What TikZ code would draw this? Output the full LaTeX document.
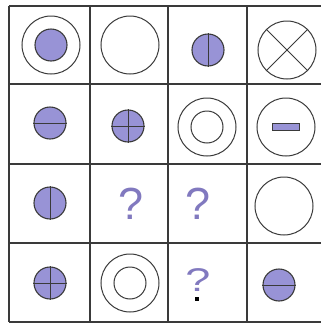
\documentclass[tikz,border=0pt]{standalone}
\usepackage{fontspec}
\usepackage{xcolor}
\usetikzlibrary{positioning}
\newfontfamily\qfont{Liberation Sans}
\definecolor{InkGray}{HTML}{3A3A3A}
\definecolor{DotFill}{HTML}{9893D6}
\definecolor{QPurple}{HTML}{8179BF}

\begin{document}
\begin{tikzpicture}[
    x=1pt, y=-1pt,
    grid/.style={draw=InkGray, line width=1.2pt},
    ring/.style={circle, draw=InkGray, line width=1pt, minimum size=58pt, inner sep=0pt},
    inring/.style={circle, draw=InkGray, line width=1pt, minimum size=32pt, inner sep=0pt},
    dot/.style={circle, draw=InkGray, line width=1.1pt, fill=DotFill, minimum size=32pt, inner sep=0pt},
    seam/.style={draw=InkGray, line width=0.7pt},
    bar/.style={rectangle, draw=InkGray, line width=0.6pt, fill=DotFill, minimum width=27pt, minimum height=7pt, inner sep=0pt},
    query/.style={text=QPurple, font=\qfont\fontsize{45}{45}\selectfont, inner sep=0pt}
  ]
    \useasboundingbox (0,0) rectangle (321,325);
    \fill[white] (0,0) rectangle (321,325);

    % grid
    \foreach \gx in {9,90,168,247}
      \draw[grid] (\gx,6) -- (\gx,322);
    \foreach \gy in {6,84,164,243,322}
      \draw[grid] (9,\gy) -- (321,\gy);

    % row 1
    \node[ring] (r1c1) at (51,45) {};
    \node[dot] (r1c1in) at (51,45) {};
    \node[ring] (r1c2) at (130,45) {};
    \node[dot] (r1c3) at (208,50) {};
    \draw[seam] (r1c3.north) -- (r1c3.south);
    \node[ring] (r1c4) at (287,50) {};
    \draw[seam, line width=1pt] (r1c4.north west) -- (r1c4.south east);
    \draw[seam, line width=1pt] (r1c4.north east) -- (r1c4.south west);

    % row 2
    \node[dot] (r2c1) at (50,123) {};
    \draw[seam] (r2c1.west) -- (r2c1.east);
    \node[dot] (r2c2) at (128,126) {};
    \draw[seam] (r2c2.west) -- (r2c2.east);
    \draw[seam] (r2c2.north) -- (r2c2.south);
    \node[ring] (r2c3) at (207,127) {};
    \node[inring] (r2c3in) at (207,127) {};
    \node[ring] (r2c4) at (286,127) {};
    \node[bar] (r2c4in) at (286,127) {};

    % row 3
    \node[dot] (r3c1) at (50,203) {};
    \draw[seam] (r3c1.north) -- (r3c1.south);
    \node[query] (r3c2) at (131,204) {?};
    \node[query] (r3c3) at (198,204) {?};
    \node[ring] (r3c4) at (284,206) {};

    % row 4
    \node[dot] (r4c1) at (50,283) {};
    \draw[seam] (r4c1.west) -- (r4c1.east);
    \draw[seam] (r4c1.north) -- (r4c1.south);
    \node[ring] (r4c2) at (130,283) {};
    \node[inring] (r4c2in) at (130,283) {};
    \node[query, yscale=0.73] (r4c3) at (198,280) {?};
    \node[fill=black, minimum size=4pt, inner sep=0pt] (speck) at (197,299) {};
    \node[dot] (r4c4) at (279,285) {};
    \draw[seam] (r4c4.west) -- (r4c4.east);
\end{tikzpicture}
\end{document}
